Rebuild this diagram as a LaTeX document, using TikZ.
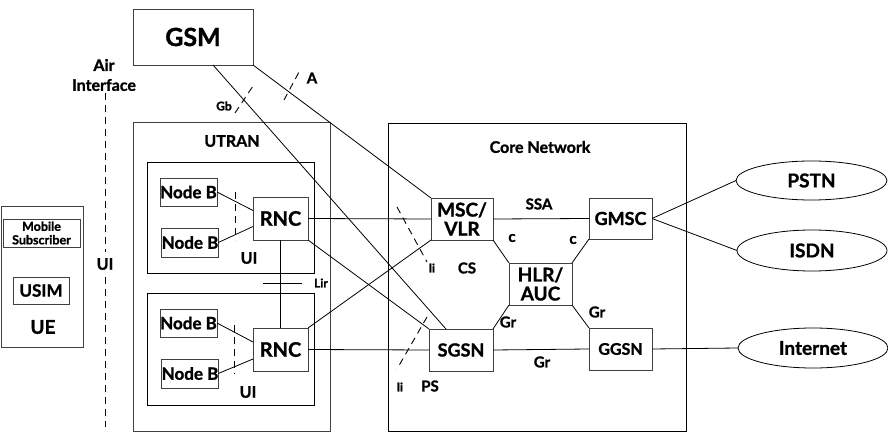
\documentclass[tikz,border=0pt]{standalone}
\usepackage{fontspec}
\setmainfont{Lato}[BoldFeatures={FakeBold=1.2}]
\usetikzlibrary{calc,shapes.geometric}
\newcommand{\fs}[1]{\fontsize{#1}{#1}\selectfont}
\tikzset{
  box/.style={draw=black!75,line width=0.8pt,rectangle,inner sep=0pt,outer sep=0pt,align=center,font=\bfseries\fs{17}},
  ell/.style={draw=black,line width=0.8pt,ellipse,inner sep=0pt,outer sep=0pt,font=\bfseries\fs{19}},
  conn/.style={draw=black,line width=0.8pt},
  dsh/.style={draw=black,line width=0.9pt,dash pattern=on 7pt off 5pt},
  lbl/.style={inner sep=0pt,font=\bfseries\fs{15}},
}
\begin{document}
\begin{tikzpicture}[x=1pt,y=-1pt]
\useasboundingbox[fill=white] (0,0) rectangle (888,438);
% containers
\node[box,minimum width=82,minimum height=141] (UE) at (42,276.5) {};
\node[box,minimum width=197,minimum height=309] (UTRAN) at (231.5,276.5) {};
\node[box,draw=black,minimum width=167,minimum height=111] (B1) at (230.5,217.5) {};
\node[box,draw=black,minimum width=167,minimum height=112] (B2) at (230.5,349) {};
\node[box,draw=black,minimum width=298,minimum height=308] (CN) at (537,277) {};
% nodes
\node[box,minimum width=120,minimum height=56,font=\bfseries\fs{25}] (GSM) at (193,37) {GSM};
\node[box,minimum width=77,minimum height=28,font=\bfseries\fontsize{12.5}{13.5}\selectfont] (MS) at (41.5,233) {Mobile\\Subscriber};
\node[box,minimum width=56,minimum height=27] (USIM) at (41,290.5) {USIM};
\node[box,minimum width=57,minimum height=28] (NB1) at (188.5,192) {Node B};
\node[box,minimum width=56,minimum height=29] (NB2) at (190,242.5) {Node B};
\node[box,minimum width=57,minimum height=28] (NB3) at (188.5,323) {Node B};
\node[box,minimum width=56,minimum height=29] (NB4) at (190,373.5) {Node B};
\node[box,minimum width=55,minimum height=43,font=\bfseries\fs{20}] (RNC1) at (280.5,218.5) {RNC};
\node[box,minimum width=55,minimum height=43,font=\bfseries\fs{20}] (RNC2) at (280.5,349.5) {RNC};
\node[box,minimum width=62,minimum height=42,font=\bfseries\fontsize{19}{19}\selectfont] (MSC) at (462,219) {MSC/\\VLR};
\node[box,minimum width=63,minimum height=41,font=\bfseries\fs{18}] (GMSC) at (620.5,218.5) {GMSC};
\node[box,minimum width=63,minimum height=42,font=\bfseries\fontsize{19}{19}\selectfont] (HLR) at (540.5,284) {HLR/\\AUC};
\node[box,minimum width=64,minimum height=42,font=\bfseries\fs{18}] (SGSN) at (461,350) {SGSN};
\node[box,minimum width=63,minimum height=42,font=\bfseries\fs{16}] (GGSN) at (620.5,349) {GGSN};
\node[ell,minimum width=151,minimum height=39] (PSTN) at (811.5,180.5) {PSTN};
\node[ell,minimum width=150,minimum height=41] (ISDN) at (812,250.5) {ISDN};
\node[ell,minimum width=150,minimum height=40] (INET) at (813,348) {Internet};
% labels
\node[lbl,font=\bfseries\fs{16}] (lair) at (104,65) {Air};
\node[lbl,font=\bfseries\fs{16}] (lint) at (104,85) {Interface};
\node[lbl,font=\bfseries\fs{16}] (lUI) at (105,264) {UI};
\node[lbl,font=\bfseries\fs{19}] (lUE) at (43,327) {UE};
\node[lbl,font=\bfseries\fs{16}] (lUTRAN) at (232,141) {UTRAN};
\node[lbl,font=\bfseries\fs{16}] (lUI1) at (249,258) {UI};
\node[lbl,font=\bfseries\fs{16}] (lUI2) at (248,392) {UI};
\node[lbl,font=\bfseries\fs{12}] (lLir) at (321,283) {Lir};
\node[lbl,font=\bfseries\fs{12}] (lGb) at (224,106) {Gb};
\node[lbl] (lA) at (312,78) {A};
\node[lbl,font=\bfseries\fs{16}] (lCN) at (540,147) {Core Network};
\node[lbl] (lSSA) at (539,204) {SSA};
\node[lbl] (lc1) at (512,238) {c};
\node[lbl] (lc2) at (573,240) {c};
\node[lbl] (lCS) at (467,268) {CS};
\node[lbl,font=\bfseries\fs{12}] (lli1) at (432,268) {li};
\node[lbl] (lGr1) at (508,322) {Gr};
\node[lbl] (lGr2) at (597,312) {Gr};
\node[lbl] (lGr3) at (542,362) {Gr};
\node[lbl,font=\bfseries\fs{12}] (lli2) at (400,387) {li};
\node[lbl] (lPS) at (430,386) {PS};
% connectors
\draw[conn] ($(GSM.south west)+(80,0)$) -- ($(SGSN.north west)+(17,0)$);
\draw[conn] (GSM.south east) -- (MSC.north west);
\draw[conn] (RNC1.east) -- (MSC.west);
\draw[conn] (RNC1.south east) -- (SGSN.north west);
\draw[conn] (RNC2.north east) -- (MSC.south west);
\draw[conn] (RNC2.east) -- (SGSN.west);
\draw[conn] (RNC1.south) -- (RNC2.north);
\draw[conn] (NB1.east) -- ($(RNC1.west)+(0,-8)$);
\draw[conn] (NB2.east) -- ($(RNC1.west)+(0,8)$);
\draw[conn] (NB3.east) -- ($(RNC2.west)+(0,-7.5)$);
\draw[conn] (NB4.east) -- ($(RNC2.west)+(0,9.5)$);
\draw[conn] (MSC.east) -- (GMSC.west);
\draw[conn] (MSC.south east) -- (HLR.north west);
\draw[conn] (GMSC.south west) -- (HLR.north east);
\draw[conn] (SGSN.north east) -- (HLR.south west);
\draw[conn] (GGSN.north west) -- (HLR.south east);
\draw[conn] (SGSN.east) -- (GGSN.west);
\draw[conn] (GMSC.east) -- (PSTN.west);
\draw[conn] (GMSC.east) -- (ISDN.west);
\draw[conn] (GGSN.east) -- (INET.west);
% interface marks
\draw[dsh] (235,113) -- (253,86);
\draw[dsh] (284,100) -- (299,72);
\draw[dsh] (397,207) -- (427,262);
\draw[dsh] (427,317) -- (397,369);
\draw[dsh] (105,93) -- (105,252);
\draw[dsh] (105,277) -- (105,427);
\draw[dsh] (235,192) -- (235,240);
\draw[dsh] (234,325) -- (234,374);
\draw[conn] (263,283) -- (302,283);
\end{tikzpicture}
\end{document}
